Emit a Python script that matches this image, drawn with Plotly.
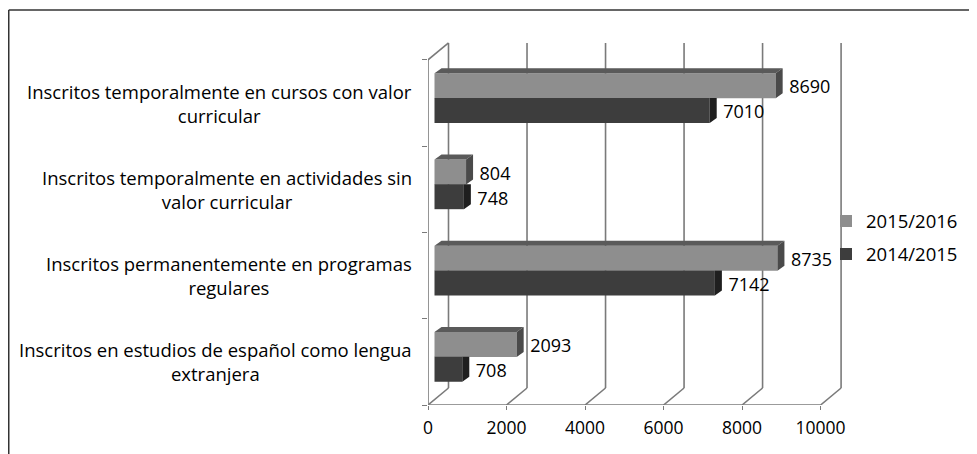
import plotly.graph_objects as go

# ---------------- data ----------------
category_labels = [
    "Inscritos en estudios de español como lengua<br>extranjera",
    "Inscritos permanentemente en programas<br>regulares",
    "Inscritos temporalmente en actividades sin<br>valor curricular",
    "Inscritos temporalmente en cursos con valor<br>curricular",
]
values_2015_2016 = [2093, 8735, 804, 8690]
values_2014_2015 = [708, 7142, 748, 7010]
series_names = ["2015/2016", "2014/2015"]
x_tick_values = [0, 2000, 4000, 6000, 8000, 10000]

# ---------------- geometry helpers ----------------
# page body has an 8px margin; targets below are in screen pixels
OFF = 8
W, H = 977 - OFF, 454 - OFF
SCR_L, SCR_T, PLOT_W, PLOT_H = 428, 34, 424, 371
M_L, M_T = SCR_L - OFF, SCR_T - OFF
M_R = W - M_L - PLOT_W
M_B = H - M_T - PLOT_H
X_RANGE = [0, 10800]
Y_RANGE = [0, 4.3]
PX_X = PLOT_W / (X_RANGE[1] - X_RANGE[0])
PX_Y = PLOT_H / (Y_RANGE[1] - Y_RANGE[0])


def ux(px):
    return px / PX_X


def uy(px):
    return px / PX_Y


def paper_x(sx):
    return (sx - SCR_L) / PLOT_W


def paper_y(sy):
    return (SCR_T + PLOT_H - sy) / PLOT_H


n_cat = len(category_labels)
wall_dx, wall_dy = ux(20.5), uy(17)
bar_off = ux(6.5)
depth_dx, depth_dy = ux(7), uy(5)
bar_h = uy(25)
shift_a = uy(17.3)
shift_b = -uy(7.4)

col_a_front, col_a_top, col_a_side = "#8e8e8e", "#5a5a5a", "#4a4a4a"
col_b_front, col_b_side = "#3d3d3d", "#1f1f1f"
grid_col = "#7a7a7a"
FONT = "Open Sans"
FS_CAT, FS_VAL, FS_TICK, FS_LEG = 18.5, 18, 17.5, 18.5

fig = go.Figure()

centers_a = [i + 0.5 + shift_a for i in range(n_cat)]
centers_b = [i + 0.5 + shift_b for i in range(n_cat)]

# front faces (bars)
fig.add_trace(go.Bar(
    orientation="h", x=values_2015_2016, y=centers_a, base=bar_off, width=bar_h,
    name=series_names[0], marker=dict(color=col_a_front, line=dict(width=0)),
    legendgroup="a",
))
fig.add_trace(go.Bar(
    orientation="h", x=values_2014_2015, y=centers_b, base=bar_off, width=bar_h,
    name=series_names[1], marker=dict(color=col_b_front, line=dict(width=0)),
    legendgroup="b",
))

# 3D faces
top_x, top_y, side_ax, side_ay, side_bx, side_by = [], [], [], [], [], []
for i in range(n_cat):
    va, vb = values_2015_2016[i], values_2014_2015[i]
    ta, ba = centers_a[i] + bar_h / 2, centers_a[i] - bar_h / 2
    tb, bb = centers_b[i] + bar_h / 2, centers_b[i] - bar_h / 2
    ea, eb = bar_off + va, bar_off + vb
    top_x += [bar_off, bar_off + depth_dx, ea + depth_dx, ea, None]
    top_y += [ta, ta + depth_dy, ta + depth_dy, ta, None]
    side_ax += [ea, ea + depth_dx, ea + depth_dx, ea, None]
    side_ay += [ta, ta + depth_dy, ba + depth_dy, ba, None]
    side_bx += [eb, eb + depth_dx, eb + depth_dx, eb, None]
    side_by += [tb, tb, bb + depth_dy, bb, None]

for xs, ys, c in [(top_x, top_y, col_a_top), (side_ax, side_ay, col_a_side),
                  (side_bx, side_by, col_b_side)]:
    fig.add_trace(go.Scatter(x=xs, y=ys, mode="lines", fill="toself", fillcolor=c,
                             line=dict(width=0, color=c), showlegend=False,
                             hoverinfo="skip"))

# value labels
pad = ux(6.5)
fig.add_trace(go.Scatter(
    x=[bar_off + v + depth_dx + pad for v in values_2015_2016],
    y=[c - uy(3) for c in centers_a], mode="text",
    text=[str(v) for v in values_2015_2016], textposition="middle right",
    textfont=dict(family=FONT, size=FS_VAL, color="#000"), showlegend=False, hoverinfo="skip"))
fig.add_trace(go.Scatter(
    x=[bar_off + v + depth_dx + pad for v in values_2014_2015],
    y=[c - uy(3.5) for c in centers_b], mode="text",
    text=[str(v) for v in values_2014_2015], textposition="middle right",
    textfont=dict(family=FONT, size=FS_VAL, color="#000"), showlegend=False, hoverinfo="skip"))

# walls / floor / gridlines (below bars)
shapes = []
line_style = dict(color=grid_col, width=1.6)
for t in x_tick_values:
    shapes.append(dict(type="line", xref="x", yref="y", x0=t + wall_dx, x1=t + wall_dx,
                       y0=wall_dy, y1=n_cat + wall_dy, line=line_style, layer="below"))
    shapes.append(dict(type="line", xref="x", yref="y", x0=t, x1=t + wall_dx,
                       y0=0, y1=wall_dy, line=line_style, layer="below"))
shapes.append(dict(type="line", xref="x", yref="y", x0=x_tick_values[0], x1=x_tick_values[-1],
                   y0=0, y1=0, line=line_style, layer="below"))
shapes.append(dict(type="line", xref="x", yref="y", x0=0, x1=0, y0=0, y1=n_cat,
                   line=line_style, layer="below"))
shapes.append(dict(type="line", xref="x", yref="y", x0=0, x1=wall_dx, y0=n_cat,
                   y1=n_cat + wall_dy, line=line_style, layer="below"))
# outer frame (top and left edges of the cropped picture)
frame = dict(color="#333333", width=1.5)
shapes.append(dict(type="line", xref="paper", yref="paper", x0=paper_x(8.75), x1=paper_x(990),
                   y0=paper_y(10), y1=paper_y(10), line=frame))
shapes.append(dict(type="line", xref="paper", yref="paper", x0=paper_x(8.75), x1=paper_x(8.75),
                   y0=paper_y(10), y1=paper_y(470), line=frame))

annotations = []
for i, lab in enumerate(category_labels):
    annotations.append(dict(
        text=lab, xref="paper", yref="y", x=paper_x(414), y=i + 0.5,
        xanchor="right", yanchor="middle", align="center", showarrow=False,
        font=dict(family=FONT, size=FS_CAT, color="#000")))

fig.update_layout(
    width=W, height=H,
    margin=dict(l=M_L, r=M_R, t=M_T, b=M_B, pad=0),
    paper_bgcolor="white", plot_bgcolor="white",
    barmode="overlay",
    shapes=shapes, annotations=annotations,
    font=dict(family=FONT, size=FS_TICK, color="#000"),
    legend=dict(x=paper_x(826), xanchor="left", y=paper_y(238), yanchor="middle",
                bgcolor="rgba(0,0,0,0)", font=dict(family=FONT, size=FS_LEG, color="#000"),
                traceorder="grouped", tracegroupgap=6, itemwidth=30),
    xaxis=dict(range=X_RANGE, tickvals=x_tick_values, ticktext=[str(t) for t in x_tick_values],
               showgrid=False, zeroline=False, showline=False, ticks="outside", ticklen=4,
               tickcolor=grid_col, tickfont=dict(family=FONT, size=FS_TICK, color="#000"),
               ticklabelstandoff=3, fixedrange=True),
    yaxis=dict(range=Y_RANGE, tickvals=list(range(n_cat + 1)), showticklabels=False,
               showgrid=False, zeroline=False, showline=False, ticks="outside", ticklen=5,
               tickcolor=grid_col, fixedrange=True),
)

fig.write_html("out.html")
